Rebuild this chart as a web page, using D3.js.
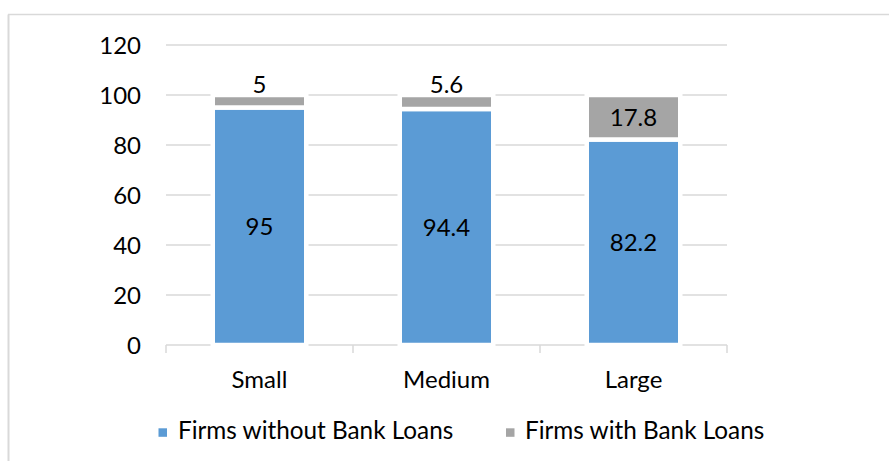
<!DOCTYPE html>
<html><head><meta charset="utf-8">
<script src="https://cdn.jsdelivr.net/npm/d3@7"></script>
<style>body{margin:0;background:#fff}svg{display:block}text{font-family:Lato,"Open Sans",sans-serif;fill:#000}</style>
</head><body><svg id="c" width="889" height="461"></svg>
<script>
const categories = ["Small", "Medium", "Large"];
const withoutLoans = [95, 94.4, 82.2];
const withLoans = [5, 5.6, 17.8];
const seriesNames = ["Firms without Bank Loans", "Firms with Bank Loans"];
const yTicks = [0, 20, 40, 60, 80, 100, 120];
const colors = ["#5B9BD5", "#A5A5A5"];
const FS = 24, LFS = 24.3;

const svg = d3.select("#c");
svg.append("line").attr("x1",8.5).attr("x2",8.5).attr("y1",14.5).attr("y2",461).attr("stroke","#d9d9d9").attr("stroke-width",2);
svg.append("line").attr("x1",8).attr("x2",889).attr("y1",14.5).attr("y2",14.5).attr("stroke","#d9d9d9").attr("stroke-width",1.5);

const x = d3.scaleBand().domain(categories).range([166, 727]).paddingInner(0).paddingOuter(0);
const y = d3.scaleLinear().domain([0, 120]).range([345, 45]);
const bw = x.bandwidth() * 0.5;

svg.append("g").selectAll("line").data(yTicks.filter(t => t > 0)).join("line")
  .attr("x1", 166).attr("x2", 727).attr("y1", d => y(d)).attr("y2", d => y(d))
  .attr("stroke", "#d9d9d9").attr("stroke-width", 1.5);

const xa = svg.append("g").attr("transform", "translate(0,345)")
  .call(d3.axisBottom(x).tickSize(0).tickPadding(0).tickFormat(""));
xa.select(".domain").remove();
xa.append("line").attr("x1",166).attr("x2",727).attr("stroke","#d9d9d9").attr("stroke-width",1.5);
xa.selectAll(".bt").data([166, 353, 540, 727]).join("line").attr("class","bt")
  .attr("x1", d => d).attr("x2", d => d).attr("y1", 0).attr("y2", 8).attr("stroke","#d9d9d9").attr("stroke-width",1.5);
xa.selectAll(".cl").data(categories).join("text").attr("class","cl")
  .attr("x", d => x(d) + x.bandwidth()/2).attr("y", 43).attr("text-anchor","middle")
  .attr("font-size", FS).text(d => d);

const ya = svg.append("g").attr("transform", "translate(141,0)")
  .call(d3.axisLeft(y).tickValues(yTicks).tickSize(0).tickPadding(0));
ya.select(".domain").remove();
ya.selectAll("text").attr("font-size", FS).attr("font-family","Lato").attr("fill","#000").attr("dy","0.36em");

const stacked = categories.map((c, i) => ({c, segs: [
  {s: 0, y0: 0, y1: withoutLoans[i], v: withoutLoans[i]},
  {s: 1, y0: withoutLoans[i], y1: withoutLoans[i] + withLoans[i], v: withLoans[i]}
]}));
const g = svg.append("g");
stacked.forEach(d => {
  const cx = x(d.c) + x.bandwidth()/2;
  d.segs.forEach(s => {
    g.append("rect").attr("x", cx - bw/2).attr("width", bw)
      .attr("y", y(s.y1)).attr("height", y(s.y0) - y(s.y1))
      .attr("fill", colors[s.s]).attr("stroke", "#fff").attr("stroke-width", 4.5);
    const h = y(s.y0) - y(s.y1);
    const inside = h > 30;
    g.append("text").attr("x", cx).attr("text-anchor", "middle")
      .attr("y", inside ? (y(s.y0) + y(s.y1)) / 2 : y(s.y1) - 11)
      .attr("dy", "0.36em").attr("font-size", FS).text(s.v);
  });
});

const leg = svg.append("g");
const lx = [158.5, 506];
const tx = [178, 525];
seriesNames.forEach((n, i) => {
  leg.append("rect").attr("x", lx[i]).attr("y", 428.3).attr("width", 8.5).attr("height", 8.5).attr("fill", colors[i]);
  leg.append("text").attr("x", tx[i]).attr("y", 439.3).attr("font-size", LFS).text(n);
});
</script></body></html>
